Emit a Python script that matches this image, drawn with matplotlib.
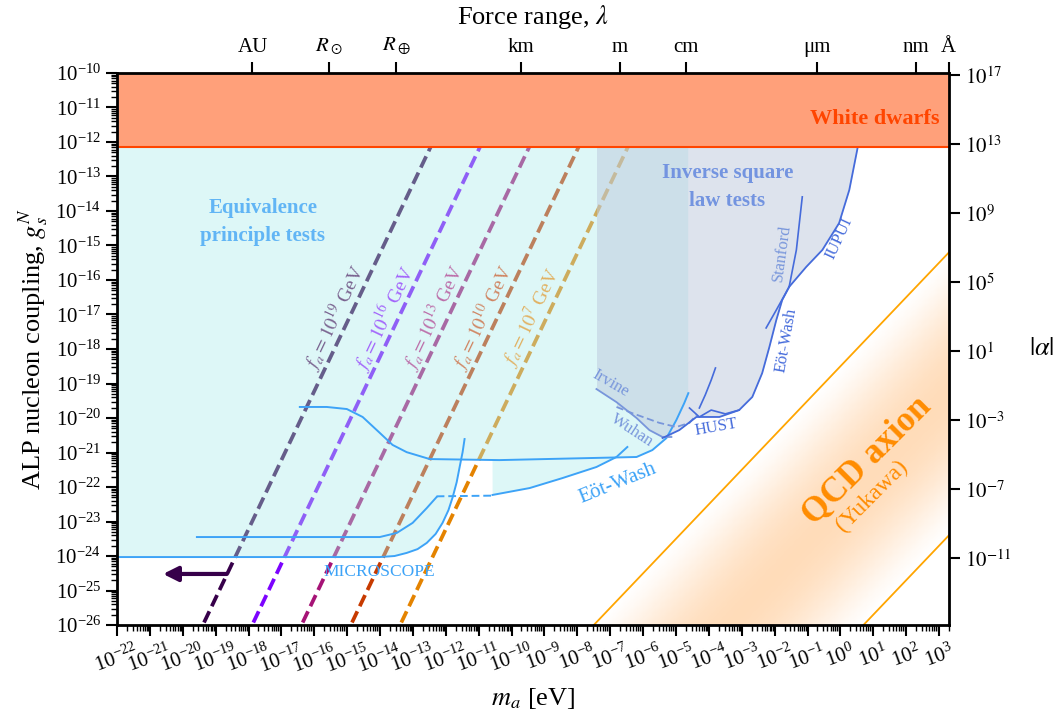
import numpy as np
import matplotlib.pyplot as plt
from matplotlib.ticker import LogLocator, NullLocator, NullFormatter
from matplotlib.colors import LinearSegmentedColormap

plt.rcParams['font.family'] = ['Liberation Serif', 'DejaVu Serif']
plt.rcParams['mathtext.fontset'] = 'stix'

# axis ranges
m_min, m_max = 1e-22, 2e3
g_min, g_max = 1e-26, 1e-10

# white dwarf bound on g
g_wd = 7.2e-13

# --- equivalence principle tests (log10 m [eV], log10 g) ---
ep_torsion_lm = [-16.44, -15.62, -15.01, -14.53, -14.01, -13.62, -13.19, -12.49, -10.37, -6.20, -5.72, -5.29, -4.99, -4.75, -4.625]
ep_torsion_lg = [-19.68, -19.68, -19.74, -19.97, -20.43, -20.78, -20.99, -21.19, -21.22, -21.13, -20.93, -20.58, -20.06, -19.57, -19.28]

microscope_lm = [-22.0, -14.92, -14.01, -13.56, -13.19, -12.86, -12.58, -12.31, -12.10, -11.92, -11.79, -11.67, -11.58, -11.49, -11.43]
microscope_lg = [-24.03, -24.03, -24.03, -24.00, -23.91, -23.80, -23.62, -23.36, -23.04, -22.67, -22.29, -21.86, -21.42, -20.99, -20.61]

eotwash_ep_left_lm = [-19.57, -14.01, -13.49, -13.01, -12.58, -12.28]
eotwash_ep_left_lg = [-23.45, -23.45, -23.33, -23.04, -22.61, -22.29]
eotwash_ep_dash_lm = [-12.28, -10.58]
eotwash_ep_dash_lg = [-22.27, -22.25]
eotwash_ep_right_lm = [-10.58, -9.45, -8.45, -7.42, -6.81, -6.48]
eotwash_ep_right_lg = [-22.23, -22.03, -21.74, -21.42, -21.13, -20.84]

# --- inverse square law tests ---
irvine_lm = [-7.42, -6.81, -6.20, -5.81, -5.41, -5.14]
irvine_lg = [-19.16, -19.54, -20.00, -20.35, -20.55, -20.55]
wuhan_lm = [-6.81, -6.33, -5.51, -4.99, -4.59, -4.38]
wuhan_lg = [-19.68, -19.86, -20.14, -20.26, -20.14, -19.91]
hust_lm = [-4.59, -4.29, -3.93, -3.50, -3.08]
hust_lg = [-19.71, -19.97, -19.77, -19.88, -19.77]
hust2_lm = [-4.29, -4.11, -3.93, -3.80]
hust2_lg = [-19.71, -19.33, -18.90, -18.55]
eotwash_isl_lm = [-5.41, -4.90, -4.38, -3.68, -3.08, -2.68, -2.38, -2.16, -1.95, -1.77, -1.56]
eotwash_isl_lg = [-20.58, -20.35, -19.97, -19.97, -19.77, -19.39, -18.70, -17.94, -17.16, -16.58, -16.20]
stanford_lm = [-2.26, -1.95, -1.56, -1.34, -1.16]
stanford_lg = [-17.39, -16.87, -16.20, -15.13, -13.59]
iupui_lm = [-1.56, -1.04, -0.55, -0.04, 0.27, 0.51, 0.93]
iupui_lg = [-16.20, -15.62, -15.13, -14.35, -13.39, -12.23, -10.0]

# --- f_a lines: log g = 2 log m + log f_a + c ---
fa_vals = [1e19, 1e16, 1e13, 1e10, 1e7]
fa_exps = [19, 16, 13, 10, 7]
fa_const = -6.22

# --- QCD axion (Yukawa) band: log g = log m + c ---
qcd_hi = -18.5
qcd_lo = -26.7

# top axis: force range
lam_vals = [1.496e11, 6.957e8, 6.371e6, 1e3, 1.0, 1e-2, 1e-6, 1e-9, 1e-10]
lam_labels = ['AU', r'$R_\odot$', r'$R_\oplus$', 'km', 'm', 'cm', 'μm', 'nm', 'Å']
hbarc = 1.97327e-7  # eV m

# |alpha| conversion
G_N = 6.708e-39
m_n = 0.9396
K_alpha = 1 / (4 * np.pi * G_N * m_n**2)

ep_col = (0.24, 0.64, 0.97)
ep_fill = (172/255, 235/255, 235/255)
isl_col = (0.27, 0.42, 0.86)
isl_light = (0.47, 0.59, 0.86)
isl_fill = (189/255, 201/255, 221/255)

fig = plt.figure(figsize=(10.55, 7.19), dpi=100)
ax = fig.add_axes([0.1109, 0.1307, 0.7886, 0.7678])
ax.set_xscale('log')
ax.set_yscale('log')
ax.set_xlim(m_min, m_max)
ax.set_ylim(g_min, g_max)

# f_a lines (drawn under the fills)
fa_cols = plt.cm.gnuplot(np.linspace(0.05, 0.8, 5))
lm_line = np.linspace(-22, 3.5, 400)
for fa, ex, c in zip(fa_vals, fa_exps, fa_cols):
    lg_line = 2 * lm_line + np.log10(fa) + fa_const
    ax.plot(10**lm_line, 10**lg_line, color=c, lw=2.7, dashes=(3.3, 1.5), zorder=1)
    g_lab = 10**-17.1
    m_lab = 10**((np.log10(g_lab) - np.log10(fa) - fa_const) / 2 - 0.43)
    ax.text(m_lab, g_lab, r'$f_a = 10^{%d}$ GeV' % ex, color=c, alpha=0.6, fontsize=14,
            rotation=64.5, ha='center', va='center', zorder=6)

ax.annotate('', xy=(10**-20.6, 10**-24.52), xytext=(10**-18.66, 10**-24.52),
            arrowprops=dict(arrowstyle='-|>', lw=3, color=fa_cols[0], mutation_scale=22,
                            shrinkA=0, shrinkB=0), zorder=6)

# envelope helper
grid = np.linspace(-22, 3.4, 6000)


def envelope(curves):
    lo = np.full_like(grid, np.inf)
    for lm, lg in curves:
        v = np.interp(grid, lm, lg, left=np.inf, right=np.inf)
        lo = np.minimum(lo, v)
    return lo


# EP fill (close steep ends vertically)
ep_env = envelope([
    (ep_torsion_lm + [ep_torsion_lm[-1] + 1e-3], ep_torsion_lg + [0.0]),
    (microscope_lm + [microscope_lm[-1] + 1e-3], microscope_lg + [0.0]),
    (eotwash_ep_left_lm, eotwash_ep_left_lg),
    (eotwash_ep_right_lm, eotwash_ep_right_lg),
])
ok = np.isfinite(ep_env)
ax.fill_between(10**grid, 10**np.where(ok, ep_env, 0), 1, where=ok, color=ep_fill,
                alpha=0.4, lw=0, zorder=2)

isl_env = envelope([
    (irvine_lm, irvine_lg), (wuhan_lm, wuhan_lg), (hust_lm, hust_lg),
    (eotwash_isl_lm, eotwash_isl_lg), (iupui_lm, iupui_lg),
])
ok = np.isfinite(isl_env)
ax.fill_between(10**grid, 10**np.where(ok, isl_env, 0), 1, where=ok, color=isl_fill,
                alpha=0.5, lw=0, zorder=2)


def pl(lm, lg, **kw):
    ax.plot(10**np.array(lm), 10**np.array(lg), **kw)


# EP curves
pl(ep_torsion_lm, ep_torsion_lg, color=ep_col, lw=1.4, zorder=3)
pl(microscope_lm, microscope_lg, color=ep_col, lw=1.4, zorder=3)
pl(eotwash_ep_left_lm, eotwash_ep_left_lg, color=ep_col, lw=1.4, zorder=3)
pl(eotwash_ep_dash_lm, eotwash_ep_dash_lg, color=ep_col, lw=1.4, ls=(0, (4, 2)), zorder=3)
pl(eotwash_ep_right_lm, eotwash_ep_right_lg, color=ep_col, lw=1.4, zorder=3)

# ISL curves
pl(irvine_lm, irvine_lg, color=isl_light, lw=1.3, zorder=3)
pl(wuhan_lm, wuhan_lg, color=isl_light, lw=1.3, ls=(0, (4, 2)), zorder=3)
pl(hust_lm, hust_lg, color=isl_col, lw=1.2, zorder=3)
pl(hust2_lm, hust2_lg, color=isl_col, lw=1.2, zorder=3)
pl(eotwash_isl_lm, eotwash_isl_lg, color=isl_col, lw=1.3, zorder=3)
pl(stanford_lm, stanford_lg, color=isl_col, lw=1.2, zorder=3)
pl(iupui_lm, iupui_lg, color=isl_col, lw=1.3, zorder=3)

# QCD axion band with gradient
lm_q = np.linspace(-22, 3.4, 700)
lg_q = np.linspace(-26, -10, 500)
LM, LG = np.meshgrid(lm_q, lg_q)
t = (LG - LM - qcd_lo) / (qcd_hi - qcd_lo)
a = np.where((t > 0) & (t < 1), np.sin(np.pi * np.clip(t, 0, 1))**1.3, np.nan)
qcd_cmap = LinearSegmentedColormap.from_list(
    'qcd', [(1, 0.55, 0.1, 0.0), (1, 0.55, 0.1, 0.3)])
ax.pcolormesh(10**lm_q, 10**lg_q, np.ma.masked_invalid(a), cmap=qcd_cmap, vmin=0, vmax=1,
              shading='nearest', zorder=0.5, rasterized=True)
ax.plot(10**lm_q, 10**(lm_q + qcd_hi), color='orange', lw=1.3, zorder=3)
ax.plot(10**lm_q, 10**(lm_q + qcd_lo), color='orange', lw=1.3, zorder=3)

# white dwarfs
ax.fill_between([m_min, m_max], g_wd, g_max, color='lightsalmon', lw=0, zorder=4)
ax.axhline(g_wd, color='orangered', lw=1.5, zorder=4)

# labels
ax.text(1e3, 10**-11.33, 'White dwarfs', color='orangered', fontsize=16, fontweight='bold',
        ha='right', va='center', zorder=6)
ax.text(10**-17.56, 10**-14.32, 'Equivalence\nprinciple tests', color=(0.38, 0.71, 0.96),
        fontsize=15, fontweight='bold', ha='center', va='center', linespacing=1.5, zorder=6)
ax.text(10**-3.44, 10**-13.30, 'Inverse square\nlaw tests', color=(0.45, 0.58, 0.88),
        fontsize=15, fontweight='bold', ha='center', va='center', linespacing=1.5, zorder=6)
ax.text(10**-14.01, 10**-24.46, 'MICROSCOPE', color=ep_col, fontsize=12.5, ha='center',
        va='center', zorder=6)
ax.text(10**-6.78, 10**-21.91, 'Eöt-Wash', color=ep_col, fontsize=15, rotation=22,
        ha='center', va='center', zorder=6)
ax.text(10**-6.33, 10**-20.35, 'Wuhan', color=isl_light, fontsize=12, rotation=-33,
        ha='center', va='center', zorder=6)
ax.text(10**-7.0, 10**-18.99, 'Irvine', color=isl_light, fontsize=12, rotation=-30,
        ha='center', va='center', zorder=6)
ax.text(10**-3.77, 10**-20.26, 'HUST', color=isl_col, fontsize=12, rotation=10,
        ha='center', va='center', zorder=6)
ax.text(10**-1.65, 10**-17.74, 'Eöt-Wash', color=isl_col, fontsize=12, rotation=80,
        ha='center', va='center', zorder=6)
ax.text(10**-1.77, 10**-15.22, 'Stanford', color=isl_light, fontsize=12, rotation=82,
        ha='center', va='center', zorder=6)
ax.text(10**-0.04, 10**-14.78, 'IUPUI', color=isl_col, fontsize=12, rotation=65,
        ha='center', va='center', zorder=6)
ax.text(10**0.81, 10**-21.22, 'QCD axion', color='darkorange', fontsize=25, fontweight='bold',
        rotation=45, ha='center', va='center', zorder=6)
ax.text(10**0.96, 10**-22.25, '(Yukawa)', color='darkorange', fontsize=17,
        rotation=45, ha='center', va='center', zorder=6)

# axes styling
for s in ax.spines.values():
    s.set_linewidth(2)
    s.set_zorder(10)
ax.xaxis.set_major_locator(LogLocator(base=10, numticks=100))
ax.yaxis.set_major_locator(LogLocator(base=10, numticks=100))
ax.xaxis.set_minor_locator(LogLocator(base=10, subs=np.arange(2, 10), numticks=100))
ax.yaxis.set_minor_locator(LogLocator(base=10, subs=np.arange(2, 10), numticks=100))
ax.xaxis.set_minor_formatter(NullFormatter())
ax.yaxis.set_minor_formatter(NullFormatter())
ax.tick_params(which='major', direction='out', length=8, width=1.5, labelsize=15)
ax.tick_params(which='minor', direction='out', length=4.5, width=1)
ax.tick_params(axis='x', which='major', labelrotation=20, pad=4)
ax.set_xlabel(r'$m_a$ [eV]', fontsize=19, labelpad=6)
ax.set_ylabel(r'ALP nucleon coupling, $g_s^N$', fontsize=19, labelpad=4)

top = ax.secondary_xaxis('top')
top.set_xticks([hbarc / l for l in lam_vals], labels=lam_labels)
top.xaxis.set_minor_locator(NullLocator())
top.tick_params(which='major', direction='out', length=8, width=1.5, labelsize=15)
top.set_xlabel(r'Force range, $\lambda$', fontsize=19, labelpad=8)

right = ax.secondary_yaxis('right', functions=(lambda g: K_alpha * np.abs(g)**2,
                                               lambda al: np.sqrt(np.abs(al) / K_alpha)))
right.set_yticks([10.0**k for k in range(-11, 18, 4)],
                 labels=[r'$10^{%d}$' % k for k in range(-11, 18, 4)])
right.yaxis.set_minor_locator(NullLocator())
right.tick_params(which='major', direction='out', length=8, width=1.5, labelsize=15)
right.set_ylabel(r'$|\alpha|$', fontsize=19, rotation=0, labelpad=22, va='center')

fig.savefig('out.png', dpi=100)
